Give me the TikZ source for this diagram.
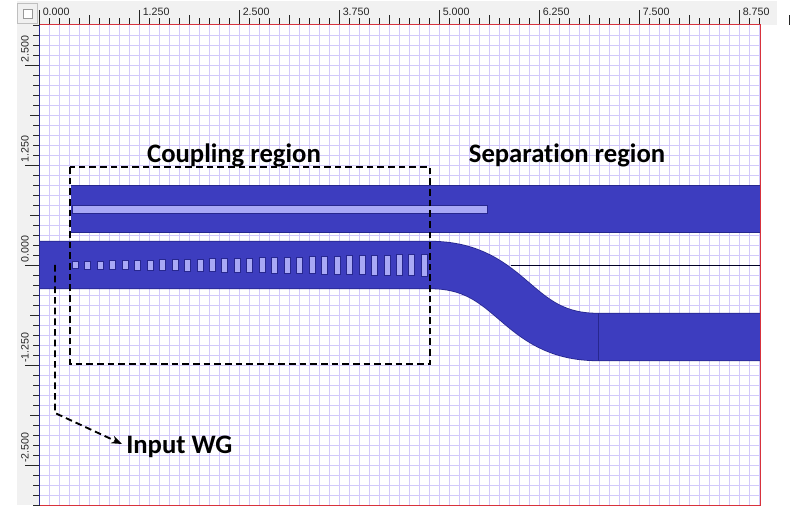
\documentclass[tikz,border=0pt]{standalone}
\usepackage{fontspec}
\setmainfont{Liberation Sans}
\newfontfamily\labelfont[Ligatures=NoCommon, BoldFont={Carlito Bold}]{Carlito}
\usepackage{xcolor}
\usetikzlibrary{arrows.meta}
\definecolor{wgblue}{HTML}{3D3DBF}
\definecolor{wgedge}{HTML}{27278F}
\definecolor{slotblue}{HTML}{A8A8F6}
\definecolor{gridblue}{HTML}{D2C9FA}
\definecolor{rulergray}{HTML}{F1F1F1}
\definecolor{framered}{HTML}{D8323C}
\tikzset{
    wg/.style={draw=wgedge, line width=.6pt, double=wgblue, double distance=35pt},
    slot/.style={fill=slotblue, draw=wgedge, line width=.3pt},
    tick/.style={line width=.75pt, black!85},
    ruler/.style={font=\fontsize{8}{8}\selectfont, text=black!85, inner sep=0pt},
    regionlabel/.style={font=\labelfont\bfseries\fontsize{20}{20}\selectfont, inner sep=0pt},
    marker/.style={dashed, line width=1.4pt, dash pattern=on 5pt off 3pt}
}
\begin{document}
\begin{tikzpicture}[x=.75pt, y=-.75pt]
    \useasboundingbox (0,0) rectangle (794,510);
    % rulers
    \fill[rulergray] (17,1) rectangle (777,25);
    \fill[rulergray] (17,25) rectangle (39.5,505);
    \draw[black!25, fill=black!6] (17,3) rectangle (37,23);
    \draw[black!40, fill=white] (23,9) rectangle (32,18);
    % grid
    \foreach \i in {49.5,59.5,...,759.5}
        \draw[gridblue, line width=.75pt] (\i,25) -- (\i,505);
    \foreach \j in {35.5,45.5,...,495.5}
        \draw[gridblue, line width=.75pt] (39.5,\j) -- (760,\j);
    \foreach \i in {0,...,72}
        \draw[tick] ({39.5+10*\i},25) -- ++(0,-7);
    \foreach \i in {0,...,7} {
        \draw[tick] ({89.5+100*\i},25) -- ++(0,-10);
        \draw[tick] ({39.5+100*\i},25) -- ++(0,-15);
    }
    \foreach \j in {0,...,48}
        \draw[tick] (39.5,{25.5+10*\j}) -- ++(-7,0);
    \foreach \j in {115.5,215.5,315.5,415.5}
        \draw[tick] (39.5,\j) -- ++(-10,0);
    \foreach \j in {65.5,165.5,265.5,365.5,465.5}
        \draw[tick] (39.5,\j) -- ++(-15,0);
    \foreach \i/\k/\n in {39.5/0.000/a, 139.5/1.250/b, 239.5/2.500/c, 339.5/3.750/d, 439.5/5.000/e, 539.5/6.250/f, 639.5/7.500/g, 739.5/8.750/h}
        \node[ruler, anchor=west] (top\n) at (\i+3,12) {\k};
    \foreach \j/\k/\n in {65/2.500/a, 165/1.250/b, 265/0.000/c, 365/-1.250/d, 465/-2.500/e}
        \node[ruler, rotate=90, anchor=west] (left\n) at (25,\j-2) {\k};
    % waveguides
    \draw[wg] (71,209) -- (760,209);
    \draw[wg] (39.5,265) -- (430,265) .. controls (514,265) and (514,337) .. (598,337) -- (760,337);
    \draw[wgedge, line width=.6pt] (598,313) -- (598,361);
    \draw[black!85!blue, line width=.75pt] (511,265.5) -- (760,265.5);
    \fill[slot] (72,205) rectangle (487,213);
    \foreach \n in {0,...,28}
        \fill[slot] ({72+12.47*\n},{265-3.6-.26*\n}) rectangle ({78+12.47*\n},{265+3.6+.26*\n});
    % frame
    \draw[framered, line width=.75pt] (39.5,25) -- (760,25) -- (760,505) -- (39.5,505);
    \draw[wgedge, line width=.75pt] (39.5,25) -- (39.5,505);
    % regions
    \draw[marker] (70,167) rectangle (430,364);
    \node[regionlabel] (coupling) at (234,155) {Coupling region};
    \node[regionlabel] (separation) at (567,155) {Separation region};
    \node[regionlabel, anchor=west] (inputwg) at (126,447) {Input WG};
    \coordinate (wgstart) at (55,265);
    \coordinate (wgbend) at (55,413);
    \coordinate (wgtip) at (122,444);
    \draw[marker, -{Stealth[length=8pt, width=6pt]}] (wgstart) -- (wgbend) -- (wgtip);
\end{tikzpicture}
\end{document}
